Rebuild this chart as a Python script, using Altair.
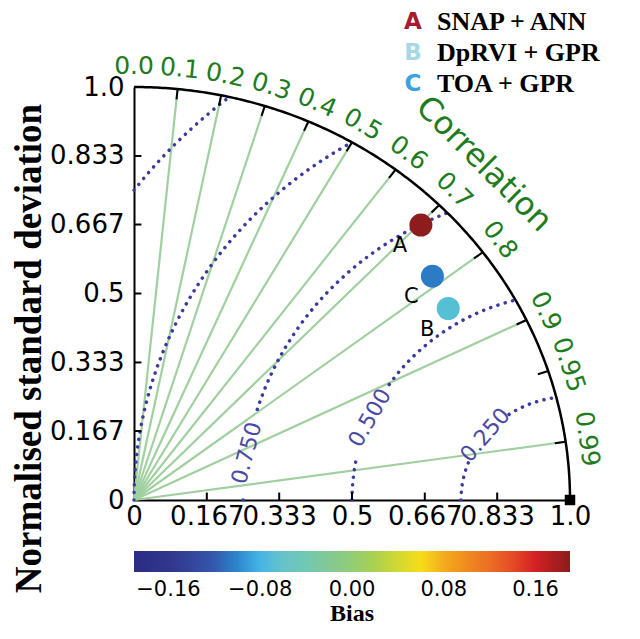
import numpy as np
import pandas as pd
import altair as alt

# ---------------- data ----------------
models = ["A", "B", "C"]
model_names = ["SNAP + ANN", "DpRVI + GPR", "TOA + GPR"]
norm_std = [0.936, 0.857, 0.873]
correlation = [0.703, 0.841, 0.784]
bias = [0.188, -0.068, -0.105]
legend_colors = ["#a51c30", "#a8d8e6", "#3aa0e0"]

corr_ticks = [0.0, 0.1, 0.2, 0.3, 0.4, 0.5, 0.6, 0.7, 0.8, 0.9, 0.95, 0.99]
corr_tick_labels = ["0.0", "0.1", "0.2", "0.3", "0.4", "0.5", "0.6", "0.7", "0.8", "0.9", "0.95", "0.99"]
corr_rays = [0.1, 0.2, 0.3, 0.4, 0.5, 0.6, 0.7, 0.8, 0.9, 0.99]

rms_levels = [0.25, 0.5, 0.75, 1.0, 1.25]
rms_gaps = {0.25: (22, 56), 0.5: (11, 34), 0.75: (0.6, 17)}
rms_label_levels = [0.25, 0.5, 0.75]
rms_label_text = ["0.250", "0.500", "0.750"]
rms_label_phi = [39.0, 23.4, 8.7]
rms_label_rot = [311, 300, 285]

std_ticks = [0, 0.167, 0.333, 0.5, 0.667, 0.833, 1.0]
bias_ticks = [-0.16, -0.08, 0.0, 0.08, 0.16]
bias_domain = [-0.19, -0.16, -0.123, -0.08, -0.057, -0.017, 0.027, 0.057, 0.085, 0.129, 0.155, 0.19]
bias_colors = ["#2c2c84", "#30368c", "#3552a6", "#45b5e5", "#70c5c5", "#88c890",
               "#b8d040", "#f5e41a", "#f0a020", "#e86028", "#e02025", "#8a1c1c"]

GREEN = "#1e7b1e"
DOT = "#3b3b9e"

# ---------------- geometry tables ----------------
pts = pd.DataFrame({"model": models, "name": model_names, "std": norm_std,
                    "corr": correlation, "bias": bias})

th = np.linspace(0, np.pi / 2, 240)
outer = pd.DataFrame({"x": np.cos(th), "y": np.sin(th)})

rows = []
for r in rms_levels:
    pmin = np.degrees(np.arccos(min(1.0, 1.0 / r))) if r > 1 else 0.0
    pmax = np.degrees(np.arccos(r / 2))
    segs = [(pmin, pmax)]
    if r in rms_gaps:
        g0, g1 = rms_gaps[r]
        segs = [(pmin, g0), (g1, pmax)]
    for k, (a0, a1) in enumerate(segs):
        for p in np.linspace(a0, a1, 120):
            pr = np.radians(p)
            rows.append({"seg": f"{r}-{k}", "x": 1 - r * np.cos(pr), "y": r * np.sin(pr)})
arcs = pd.DataFrame(rows)

rms_lab = pd.DataFrame({"r": rms_label_levels, "t": rms_label_text,
                        "phi": rms_label_phi, "rot": rms_label_rot})
corr_lab = pd.DataFrame({"c": corr_ticks, "t": corr_tick_labels})
rays = pd.DataFrame({"c": corr_rays})
arc_ticks = pd.DataFrame({"c": corr_ticks[1:]})
std_tk = pd.DataFrame({"v": std_ticks[1:]})

xs = alt.Scale(domain=[0, 1], nice=False, zero=False)
ys = alt.Scale(domain=[0, 1], nice=False, zero=False)
lab_expr = "datum.value == 0 ? '0' : datum.value == 1 ? '1.0' : format(datum.value, '.3~f')"
x_axis = alt.Axis(values=std_ticks, labelExpr=lab_expr, ticks=False, grid=False,
                  domainColor="black", domainWidth=2, labelFont="DejaVu Sans",
                  labelFontSize=26, labelColor="black", labelPadding=3,
                  labelOverlap=False, labelFlush=False, title=None)
y_axis = alt.Axis(values=std_ticks, labelExpr=lab_expr, ticks=False, grid=False,
                  domainColor="black", domainWidth=2, labelFont="DejaVu Sans",
                  labelFontSize=26, labelColor="black", labelPadding=10,
                  labelOverlap=False, labelFlush=False,
                  title="Normalised standard deviation", titleFont="Liberation Serif",
                  titleFontWeight="bold", titleFontSize=37, titleColor="black",
                  titleAngle=270, titleBaseline="alphabetic", titleX=-94, titleY=261)


def X(f="x"):
    return alt.X(f"{f}:Q", scale=xs, axis=x_axis)


def Y(f="y"):
    return alt.Y(f"{f}:Q", scale=ys, axis=y_axis)


ray_layer = alt.Chart(rays).transform_calculate(
    x0="0", y0="0", x="datum.c", y="sqrt(1 - datum.c * datum.c)"
).mark_rule(color="#a0d0a0", strokeWidth=2.2).encode(
    x=X("x0"), y=Y("y0"), x2="x:Q", y2="y:Q")

arc_layer = alt.Chart(arcs).mark_line(
    color=DOT, strokeWidth=3.5, strokeDash=[0.1, 7.5], strokeCap="round", clip=False
).encode(x=X(), y=Y(), detail="seg:N", order="y:Q")

outer_layer = alt.Chart(outer).mark_line(color="black", strokeWidth=2.5).encode(
    x=X(), y=Y(), order="x:Q")

arc_tick_layer = alt.Chart(arc_ticks).transform_calculate(
    s="sqrt(1 - datum.c * datum.c)",
    x1="0.975 * datum.c", y1="0.975 * datum.s", x="datum.c", y="datum.s"
).mark_rule(color="black", strokeWidth=2).encode(x=X("x1"), y=Y("y1"), x2="x:Q", y2="y:Q")

std_tick_x = alt.Chart(std_tk).transform_calculate(y0="0", y1="0.018").mark_rule(
    color="black", strokeWidth=2).encode(x=X("v"), y=Y("y0"), y2="y1:Q")
std_tick_y = alt.Chart(std_tk).transform_calculate(x0="0", x1="0.017").mark_rule(
    color="black", strokeWidth=2).encode(y=Y("v"), x=X("x0"), x2="x1:Q")

corr_lab_layer = alt.Chart(corr_lab).transform_calculate(
    x="1.05 * datum.c", y="1.05 * sqrt(1 - datum.c * datum.c)",
    rot="90 - acos(datum.c) * 180 / PI"
).mark_text(font="DejaVu Sans", fontSize=25, color=GREEN, align="center",
            baseline="middle").encode(x=X(), y=Y(), text="t:N",
                                      angle=alt.Angle("rot:Q", scale=None))

rms_lab_layer = alt.Chart(rms_lab).transform_calculate(
    x="1 - datum.r * cos(datum.phi * PI / 180)", y="datum.r * sin(datum.phi * PI / 180)"
).mark_text(font="DejaVu Sans", fontSize=22, color="#4a4aa6", align="center",
            baseline="middle").encode(x=X(), y=Y(), text="t:N",
                                      angle=alt.Angle("rot:Q", scale=None))

ref_layer = alt.Chart(pd.DataFrame({"x": [1.0], "y": [0.0]})).mark_square(
    size=110, color="black", opacity=1).encode(x=X(), y=Y())

pt_layer = alt.Chart(pts).transform_calculate(
    x="datum.std * datum.corr", y="datum.std * sqrt(1 - datum.corr * datum.corr)"
).mark_circle(size=530, opacity=1).encode(
    x=X(), y=Y(),
    color=alt.Color("bias:Q", scale=alt.Scale(domain=bias_domain, range=bias_colors),
                    legend=alt.Legend(orient="none", legendX=0, legendY=464,
                                      direction="horizontal", gradientLength=436,
                                      gradientThickness=21, gradientStrokeWidth=0,
                                      values=bias_ticks, format=".2f",
                                      labelFont="DejaVu Sans", labelFontSize=21,
                                      labelColor="black", labelOffset=7,
                                      title="Bias", titleOrient="bottom",
                                      titleAnchor="middle", titleFont="Liberation Serif",
                                      titleFontWeight="bold", titleFontSize=24,
                                      titleColor="black", titlePadding=2)))

pt_lab_layer = alt.Chart(pts).transform_calculate(
    x="datum.std * datum.corr", y="datum.std * sqrt(1 - datum.corr * datum.corr)"
).mark_text(font="DejaVu Sans", fontSize=21, color="black", dx=-21, dy=21).encode(
    x=X(), y=Y(), text="model:N")

corr_title = alt.Chart(pd.DataFrame({"t": ["Correlation"]})).mark_text(
    font="DejaVu Sans", fontSize=32, color=GREEN, angle=45, align="center",
    baseline="middle").encode(x=alt.value(350), y=alt.value(77), text="t:N")

legend_layers = []
leg_y = [-65, -34, -3]
for i in range(3):
    d = pd.DataFrame({"m": [models[i]], "n": [model_names[i]]})
    legend_layers.append(alt.Chart(d).mark_text(
        font="DejaVu Sans", fontWeight="bold", fontSize=23, color=legend_colors[i],
        align="center", baseline="middle").encode(
        x=alt.value(279), y=alt.value(leg_y[i]), text="m:N"))
    legend_layers.append(alt.Chart(d).mark_text(
        font="Liberation Serif", fontWeight="bold", fontSize=26, color="black",
        align="left", baseline="middle").encode(
        x=alt.value(303), y=alt.value(leg_y[i]), text="n:N"))

chart = alt.layer(
    ray_layer, arc_layer, outer_layer, arc_tick_layer, std_tick_x, std_tick_y,
    corr_lab_layer, rms_lab_layer, ref_layer, pt_layer, pt_lab_layer, corr_title,
    *legend_layers
).properties(
    width=436, height=413,
    padding={"left": 126, "top": 79, "right": 62, "bottom": 131},
    autosize=alt.AutoSizeParams(type="none"),
    background="white",
).configure_view(stroke=None)

chart.save("out.html", embed_options={"renderer": "svg", "actions": False})
